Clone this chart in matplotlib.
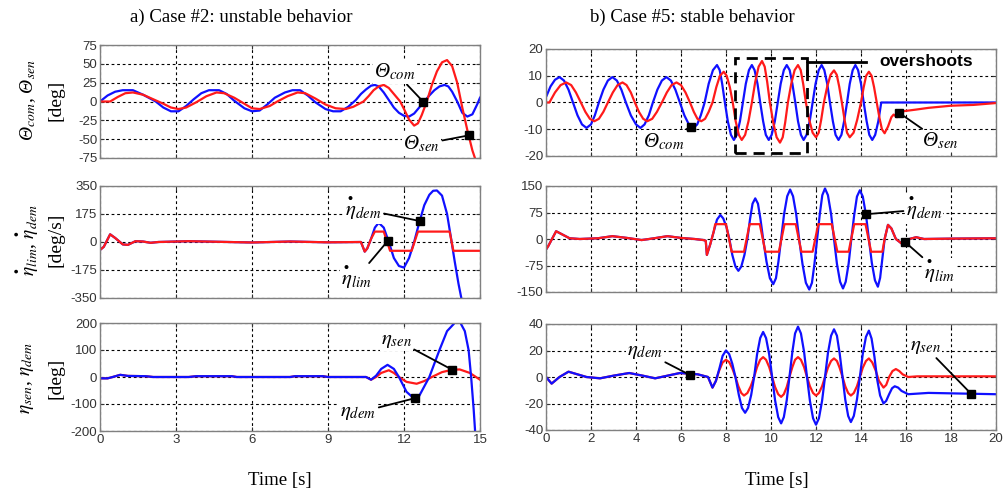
import numpy as np
import matplotlib
matplotlib.use("Agg")
import matplotlib.pyplot as plt
from matplotlib.patches import Rectangle

plt.rcParams['font.family'] = ['Liberation Serif', 'DejaVu Serif']
plt.rcParams['mathtext.fontset'] = 'stix'
plt.rcParams['axes.unicode_minus'] = False

# ---- a) Case #2 : unstable (0..15 s) ----
# pitch angle command / sensed [deg]
a_t_com = [0.0, 0.3, 0.6, 0.9, 1.3, 1.7, 2.2, 2.5, 2.8, 3.1, 3.4, 3.7, 4.0, 4.3, 4.7, 5.0, 5.3,
           5.7, 6.0, 6.3, 6.6, 6.9, 7.3, 7.6, 7.9, 8.2, 8.5, 8.9, 9.2, 9.5, 9.8, 10.1, 10.3,
           10.5, 10.7, 10.85, 11.0, 11.2, 11.4, 11.6, 11.8, 12.0, 12.2, 12.4, 12.6, 12.8,
           13.0, 13.2, 13.4, 13.6, 13.75, 13.9, 14.1, 14.3, 14.5, 14.7, 14.9, 15.0]
a_theta_com = [0, 8, 13, 15, 15, 9, 0, -8, -13, -13, -6, 3, 11, 15, 15, 10, 1,
               -9, -13, -12, -4, 5, 12, 15, 15, 8, -1, -10, -13, -13, -7, 2, 10,
               16, 21, 22, 20, 12, 2, -8, -15, -19, -20, -16, -8, 0,
               8, 15, 20, 22, 20, 13, 0, -15, -20, -17, -3, 5]
a_t_sen = [0.0, 0.4, 0.7, 1.0, 1.3, 1.7, 2.1, 2.5, 2.8, 3.1, 3.4, 3.8, 4.2, 4.6, 4.9, 5.3, 5.7,
           6.0, 6.3, 6.7, 7.0, 7.4, 7.8, 8.1, 8.5, 8.9, 9.3, 9.7, 10.0, 10.4, 10.6, 10.8, 11.0,
           11.2, 11.4, 11.6, 11.85, 12.0, 12.2, 12.4, 12.55, 12.7, 12.9, 13.1, 13.3, 13.5,
           13.7, 13.9, 14.1, 14.3, 14.5, 14.7, 14.85]
a_theta_sen = [0, 0, 6, 11, 12, 9, 3, -3, -8, -10, -8, -1, 7, 12, 11, 5, -3,
               -9, -10, -6, 0, 7, 12, 11, 4, -4, -9, -10, -7, 0, 7, 15, 20,
               22, 18, 10, 0, -10, -24, -32, -29, -18, 0, 22, 40, 52,
               55, 47, 25, -8, -38, -65, -80]

# elevator rate: demanded (blue) and limited (red) [deg/s]
a_t_rdem = [0.0, 0.15, 0.4, 0.6, 0.9, 1.1, 1.4, 1.7, 2.0, 2.3, 3.5, 6.0, 7.5, 9.0, 10.3,
            10.45, 10.55, 10.7, 10.85, 11.0, 11.2, 11.4, 11.6, 11.8, 12.0, 12.2, 12.4, 12.6,
            12.8, 13.0, 13.15, 13.3, 13.5, 13.7, 13.85, 14.0, 14.15, 14.3]
a_rate_dem = [-50, -30, 48, 25, -15, -18, 5, 3, -5, 0, 5, -3, 3, -2, 0,
              -60, -40, 20, 90, 120, 90, 0, -100, -150, -160, -100, 0, 120,
              230, 295, 320, 322, 290, 175, 30, -120, -260, -380]
a_t_rlim = [0.0, 0.15, 0.4, 0.6, 0.9, 1.1, 1.4, 1.7, 2.0, 2.3, 3.5, 6.0, 7.5, 9.0, 10.3,
            10.45, 10.55, 10.7, 10.85, 11.2, 11.45, 12.3, 12.55, 13.8, 13.95, 15.0]
a_rate_lim = [-50, -30, 48, 25, -15, -18, 5, 3, -5, 0, 5, -3, 3, -2, 0,
              -60, -40, 20, 65, 65, -55, -55, 65, 65, -55, -55]

# elevator deflection [deg]
a_t_edem = [0.0, 0.3, 0.5, 0.8, 1.1, 1.8, 2.1, 3.5, 3.8, 5.2, 5.4, 7.5, 7.7, 8.8, 9.0, 10.5,
            10.7, 10.9, 11.1, 11.35, 11.6, 11.8, 12.1, 12.4, 12.6, 12.8, 13.0, 13.2, 13.4,
            13.7, 14.0, 14.2, 14.4, 14.55, 14.65, 14.75, 14.82]
a_eta_dem = [-5, -5, 0, 8, 4, 3, 0, 0, 3, 3, 0, 0, 3, 3, 0, 0,
             -10, 5, 30, 45, 30, 0, -55, -80, -70, -35, 0, 50, 100,
             170, 200, 205, 170, 100, 0, -120, -220]
a_t_esen = [0.0, 0.3, 0.5, 0.8, 1.1, 1.8, 2.1, 3.5, 3.8, 5.2, 5.4, 7.5, 7.7, 8.8, 9.0, 10.5,
            10.7, 10.9, 11.1, 11.4, 11.6, 11.8, 12.1, 12.5, 12.8, 13.1, 13.5, 13.9, 14.2,
            14.6, 15.0]
a_eta_sen = [-5, -5, 0, 8, 4, 3, 0, 0, 3, 3, 0, 0, 3, 3, 0, 0,
             -10, 0, 15, 25, 15, 0, -18, -25, -15, 0, 18, 27, 28,
             15, -10]

# ---- b) Case #5 : stable (0..20 s) ----
b_t_com = [0.0, 0.2, 0.4, 0.6, 0.8, 1.0, 1.2, 1.4, 1.6, 1.8, 2.0, 2.17, 2.35, 2.55, 2.75,
           2.95, 3.15, 3.35, 3.55, 3.77, 4.0, 4.2, 4.38, 4.57, 4.75, 4.95, 5.15, 5.35, 5.55,
           5.75, 5.95, 6.15, 6.35, 6.55, 6.72, 6.88, 7.05, 7.23, 7.42, 7.6, 7.72, 7.83, 7.95,
           8.08, 8.22, 8.35, 8.48, 8.62, 8.75, 8.88, 9.02, 9.15, 9.27, 9.4, 9.52, 9.65, 9.77,
           9.9, 10.03, 10.17, 10.3, 10.43, 10.57, 10.7, 10.83, 10.95, 11.08, 11.2, 11.33,
           11.45, 11.58, 11.72, 11.85, 11.98, 12.12, 12.25, 12.37, 12.5, 12.62, 12.75, 12.87,
           13.0, 13.13, 13.25, 13.38, 13.5, 13.63, 13.75, 13.87, 14.0, 14.12, 14.25, 14.37,
           14.5, 14.63, 14.77, 14.9, 20.0]
b_theta_com = [2, 6, 8.5, 9.5, 8.2, 4.8, 0, -4.8, -8.2, -9.5, -8.2, -4.8, 0, 4.8, 8.2,
               9.5, 8.2, 4.8, 0, -4.8, -8.2, -9.5, -8.2, -4.8, 0, 4.8, 8.2, 9.5, 8.2,
               4.8, 0, -4.8, -8.2, -9.5, -8.2, -4.8, 0, 7, 12.1, 14, 12.1, 7, 0,
               -7, -12.1, -14, -12.1, -7, 0, 7, 12.1, 14, 12.1, 7, 0, -7, -12.1,
               -14, -12.1, -7, 0, 7, 12.1, 14, 12.1, 7, 0, -7, -12.1,
               -14, -12.1, -7, 0, 7, 12.1, 14, 12.1, 7, 0, -7, -12.1,
               -14, -12.1, -7, 0, 7, 12.1, 14, 12.1, 7, 0, -7, -12.1,
               -14, -12.1, -7, 0, 0]
b_t_sen = [0.0, 0.15, 0.4, 0.65, 0.9, 1.12, 1.33, 1.55, 1.75, 1.95, 2.15, 2.35, 2.55, 2.75,
           2.97, 3.18, 3.4, 3.58, 3.77, 3.95, 4.13, 4.32, 4.5, 4.72, 4.93, 5.15, 5.37, 5.58,
           5.8, 6.0, 6.2, 6.4, 6.57, 6.73, 6.9, 7.07, 7.23, 7.4, 7.57, 7.73, 7.9, 8.03, 8.17,
           8.3, 8.43, 8.57, 8.7, 8.85, 9.0, 9.15, 9.3, 9.45, 9.6, 9.72, 9.83, 9.95, 10.1,
           10.25, 10.4, 10.52, 10.63, 10.75, 10.9, 11.05, 11.2, 11.32, 11.43, 11.55, 11.7,
           11.85, 12.0, 12.12, 12.23, 12.35, 12.5, 12.65, 12.8, 12.92, 13.03, 13.15, 13.27,
           13.38, 13.5, 13.67, 13.83, 14.0, 14.12, 14.23, 14.35, 14.47, 14.58, 14.7, 14.82,
           14.93, 15.05, 15.2, 15.35, 15.45, 15.6, 15.75, 16.4, 17.0, 18.0, 19.0, 20.0]
b_theta_sen = [0, 0, 3.75, 6.5, 7.5, 6.5, 3.75, 0, -3.5, -6.1, -7, -6.1, -3.5, 0,
               3.75, 6.5, 7.5, 6.5, 3.75, 0, -3.5, -6.1, -7, -6.1, -3.5, 0, 3.75, 6.5,
               7.5, 6.5, 3.75, 0, -3.5, -6.1, -7, -6.1, -3.5, 0, 5.75, 10, 11.5, 10, 5.75,
               0, -7, -12.1, -14, -12.1, -7, 0, 7.75, 13.4, 15.5, 13.4, 7.75, 0, -7.5,
               -13, -15, -13, -7.5, 0, 7, 12.1, 14, 12.1, 7, 0, -6.5,
               -11.3, -13, -11.3, -6.5, 0, 6, 10.4, 12, 10.4, 6, 0, -6.5,
               -11.3, -13, -11.3, -6.5, 0, 5.75, 10, 11.5, 10, 5.75, 0, -5.75,
               -10, -11.5, -9, -5.5, -4.5, -5.5, -3.4, -2.7, -2, -1.2, -0.9, -0.2]

b_t_rdem = [0.0, 0.1, 0.45, 0.75, 1.05, 1.5, 2.3, 2.95, 3.6, 4.25, 4.8, 5.4, 6.0, 6.6, 7.0,
            7.1, 7.15, 7.3, 7.45, 7.6, 7.75, 7.88, 8.02, 8.15, 8.28, 8.42, 8.55, 8.68, 8.82,
            8.95, 9.07, 9.18, 9.3, 9.42, 9.53, 9.65, 9.8, 9.95, 10.1, 10.22, 10.33, 10.45,
            10.58, 10.72, 10.85, 10.98, 11.12, 11.25, 11.4, 11.55, 11.7, 11.82, 11.93, 12.05,
            12.17, 12.28, 12.4, 12.53, 12.67, 12.8, 12.93, 13.07, 13.2, 13.32, 13.45, 13.57,
            13.7, 13.82, 13.95, 14.08, 14.22, 14.35, 14.48, 14.62, 14.75, 14.85, 14.95, 15.05,
            15.2, 15.35, 15.55, 15.85, 16.15, 16.45, 16.8, 18.0, 20.0]
b_rate_dem = [-30, -20, 22, 12, 2, 0, 2, 8, 3, -3, 2, 8, 3, 0, -3,
              -5, -45, -15, 20, 55, 68, 58, 34, 0, -45, -78, -90, -78, -45,
              0, 57, 100, 115, 100, 57, 0, -64, -111, -128, -111, -64, 0,
              70, 121, 140, 121, 70, 0, -71, -124, -143, -124, -71, 0,
              71, 124, 143, 124, 71, 0, -70, -121, -140, -121, -70, 0,
              69, 120, 138, 120, 69, 0, -67, -117, -135, -110, -55, 0,
              40, 30, 0, -15, 0, 5, 0, 1, 2]
b_t_rlim = [0.0, 0.1, 0.45, 0.75, 1.05, 1.5, 2.3, 2.95, 3.6, 4.25, 4.8, 5.4, 6.0, 6.6, 7.0,
            7.1, 7.15, 7.3, 7.45, 7.52, 8.0, 8.25, 8.8, 9.05, 9.5, 9.75, 10.35, 10.6, 11.1,
            11.35, 11.85, 12.1, 12.7, 12.95, 13.45, 13.7, 14.2, 14.45, 14.95, 15.05, 15.2,
            15.35, 15.55, 15.85, 16.15, 16.45, 16.8, 18.0, 20.0]
b_rate_lim = [-30, -20, 22, 12, 2, 0, 2, 8, 3, -3, 2, 8, 3, 0, -3,
              -5, -45, -15, 20, 42, 42, -36, -36, 42, 42, -36, -36, 42, 42,
              -36, -36, 42, 42, -36, -36, 42, 42, -36, -36, 0, 40,
              30, 0, -15, 0, 5, 0, 1, 2]

b_t_esen = [0.0, 0.25, 0.6, 1.0, 1.4, 1.8, 2.4, 3.0, 3.7, 4.3, 4.85, 5.4, 5.95, 6.4, 6.75,
            7.2, 7.4, 7.55, 7.7, 7.85, 8.0, 8.14, 8.28, 8.42, 8.57, 8.71, 8.85, 8.98, 9.12,
            9.25, 9.38, 9.52, 9.65, 9.78, 9.92, 10.05, 10.18, 10.32, 10.45, 10.57, 10.7,
            10.82, 10.95, 11.07, 11.2, 11.33, 11.47, 11.6, 11.73, 11.87, 12.0, 12.13, 12.27,
            12.4, 12.53, 12.67, 12.8, 12.93, 13.05, 13.18, 13.3, 13.43, 13.55, 13.68, 13.82,
            13.95, 14.08, 14.22, 14.35, 14.47, 14.6, 14.72, 14.85, 15.0, 15.12, 15.25, 15.38,
            15.5, 15.65, 15.8, 16.1, 17.0, 20.0]
b_eta_sen = [0, -5, 0, 4, 2, 0, -1, 1, 3, 1, -1, 1, 3, 2.5, 2,
             0, -8, -3, 6, 16, 20, 17.3, 10, 0, -13.5, -23.4, -27, -23.4, -13.5,
             0, 17, 29.4, 34, 29.4, 17, 0, -17.5, -30.3, -35, -30.3, -17.5,
             0, 19, 32.9, 38, 32.9, 19, 0, -18, -31.2, -36, -31.2, -18,
             0, 18, 31.2, 36, 31.2, 18, 0, -17, -29.4, -34, -29.4, -17,
             0, 17.5, 30.3, 35, 29, 15, -2, -14, -20, -18, -13, -8.5,
             -7, -8, -10.5, -13, -12, -13]
b_t_edem = [0.0, 0.25, 0.6, 1.0, 1.4, 1.8, 2.4, 3.0, 3.7, 4.3, 4.85, 5.4, 5.95, 6.4, 6.75,
            7.2, 7.4, 7.55, 7.7, 7.85, 8.0, 8.14, 8.28, 8.42, 8.55, 8.68, 8.8, 8.95, 9.1,
            9.25, 9.38, 9.52, 9.65, 9.78, 9.92, 10.05, 10.18, 10.32, 10.45, 10.57, 10.7,
            10.82, 10.95, 11.07, 11.2, 11.33, 11.47, 11.6, 11.73, 11.87, 12.0, 12.13, 12.27,
            12.4, 12.53, 12.67, 12.8, 12.93, 13.05, 13.18, 13.3, 13.43, 13.55, 13.68, 13.82,
            13.95, 14.08, 14.22, 14.35, 14.5, 14.65, 14.8, 15.0, 15.12, 15.25, 15.4, 15.55,
            15.7, 15.85, 16.1, 16.5, 20.0]
b_eta_dem = [0, -5, 0, 4, 2, 0, -1, 1, 3, 1, -1, 1, 3, 2.5, 2,
             0, -8, -3, 5, 11, 13, 11.3, 6.5, 0, -7, -12.1, -14, -12.1, -7,
             0, 7.5, 13, 15, 13, 7.5, 0, -7.5, -13, -15, -13, -7.5,
             0, 7.5, 13, 15, 13, 7.5, 0, -7, -12.1, -14, -12.1, -7,
             0, 7, 12.1, 14, 12.1, 7, 0, -7, -12.1, -14, -12.1, -7,
             0, 7, 12.1, 14, 11, 5, -3, -8, -6, 0, 4.5, 6,
             4.5, 2, 0, 0.5, 0.5]

BLUE = '#1010ff'
RED = '#ff1a1a'
W, H = 1005, 491

# eta with a heavy dot on top (rate symbols)
ETA_DOT_DEM = r'$\overset{\bullet}{\eta}_{dem}$'
ETA_DOT_LIM = r'$\overset{\bullet}{\eta}_{lim}$'


def px_axes(fig, left, top, right, bottom):
    # axes placed by pixel edges
    return fig.add_axes([left / W, 1 - bottom / H, (right - left) / W, (bottom - top) / H])


def style(ax, xlim, xticks, ylim, yticks, show_x=False):
    ax.set_xlim(xlim)
    ax.set_ylim(ylim)
    ax.set_xticks(xticks)
    ax.set_yticks(yticks)
    ax.tick_params(direction='in', length=3, width=0.8, labelsize=9.5, colors='#333333',
                   top=True, right=True, pad=2)
    for lab in ax.get_xticklabels() + ax.get_yticklabels():
        lab.set_family('Liberation Sans')
    if not show_x:
        ax.set_xticklabels([])
    ax.grid(True, color='black', linestyle=(0, (2.5, 2.5)), linewidth=0.8)
    for s in ax.spines.values():
        s.set_color('#808080')
        s.set_linewidth(1.0)


def callout(ax, label, xy, xytext, size=15, italic=False):
    ax.annotate(label, xy=xy, xytext=xytext, fontsize=size, ha='center', va='center',
                style='italic' if italic else 'normal',
                annotation_clip=False, zorder=6,
                bbox=dict(boxstyle='square,pad=0.05', fc='white', ec='none'),
                arrowprops=dict(arrowstyle='-', color='black', lw=1.3, shrinkA=1, shrinkB=0))
    ax.plot(xy[0], xy[1], 's', color='black', ms=6, zorder=7, clip_on=False)


def ylabel(y, first, second, italic=False):
    fig.text(28 / W, 1 - y / H, first, fontsize=14, rotation=90, ha='center', va='center',
             style='italic' if italic else 'normal')
    fig.text(56 / W, 1 - y / H, second, fontsize=14, rotation=90, ha='center', va='center')


fig = plt.figure(figsize=(W / 100, H / 100), dpi=100)

# left column
ax1 = px_axes(fig, 100, 45, 480, 158)
ax1.plot(a_t_com, a_theta_com, color=BLUE, lw=1.6)
ax1.plot(a_t_sen, a_theta_sen, color=RED, lw=1.6)
style(ax1, (0, 15), [0, 3, 6, 9, 12, 15], (-75, 75), [-75, -50, -25, 0, 25, 50, 75])
callout(ax1, r'Θ$_{com}$', (12.75, 0), (11.65, 39), italic=True)
callout(ax1, r'Θ$_{sen}$', (14.55, -45), (12.7, -57), italic=True)

ax2 = px_axes(fig, 100, 186, 480, 298)
ax2.plot(a_t_rdem, a_rate_dem, color=BLUE, lw=1.6)
ax2.plot(a_t_rlim, a_rate_lim, color=RED, lw=1.6)
style(ax2, (0, 15), [0, 3, 6, 9, 12, 15], (-350, 350), [-350, -175, 0, 175, 350])
callout(ax2, ETA_DOT_DEM, (12.65, 130), (10.4, 205))
callout(ax2, ETA_DOT_LIM, (11.35, 5), (10.1, -230))

ax3 = px_axes(fig, 100, 323, 480, 431)
ax3.plot(a_t_esen, a_eta_sen, color=RED, lw=1.6)
ax3.plot(a_t_edem, a_eta_dem, color=BLUE, lw=1.6)
style(ax3, (0, 15), [0, 3, 6, 9, 12, 15], (-200, 200), [-200, -100, 0, 100, 200], show_x=True)
callout(ax3, r'$\eta_{sen}$', (13.9, 27), (11.7, 137))
callout(ax3, r'$\eta_{dem}$', (12.45, -78), (10.2, -132))

# right column
bx1 = px_axes(fig, 546, 49, 996, 156)
bx1.plot(b_t_com, b_theta_com, color=BLUE, lw=1.6)
bx1.plot(b_t_sen, b_theta_sen, color=RED, lw=1.6)
style(bx1, (0, 20), range(0, 21, 2), (-20, 20), [-20, -10, 0, 10, 20])
callout(bx1, r'Θ$_{com}$', (6.45, -9), (5.25, -14.7), italic=True)
callout(bx1, r'Θ$_{sen}$', (15.7, -3.9), (17.5, -14.4), italic=True)
bx1.add_patch(Rectangle((8.4, -18.9), 3.2, 35.7, fill=False, ec='black', lw=2,
                        ls=(0, (4, 2.5)), clip_on=False, zorder=5))
bx1.plot([11.6, 11.6, 14.2], [10.5, 15.2, 15.2], color='black', lw=2, zorder=5, clip_on=False)
bx1.text(14.8, 15.2, 'overshoots', fontsize=12.5, fontweight='bold', family='Liberation Sans',
         ha='left', va='center', zorder=6,
         bbox=dict(boxstyle='square,pad=0.05', fc='white', ec='none'))

bx2 = px_axes(fig, 546, 186, 996, 292)
bx2.plot(b_t_rdem, b_rate_dem, color=BLUE, lw=1.6)
bx2.plot(b_t_rlim, b_rate_lim, color=RED, lw=1.6)
style(bx2, (0, 20), range(0, 21, 2), (-150, 150), [-150, -75, 0, 75, 150])
callout(bx2, ETA_DOT_DEM, (14.2, 70), (16.8, 84))
callout(bx2, ETA_DOT_LIM, (15.95, -8), (17.5, -95))

bx3 = px_axes(fig, 546, 324, 996, 430)
bx3.plot(b_t_edem, b_eta_dem, color=RED, lw=1.6)
bx3.plot(b_t_esen, b_eta_sen, color=BLUE, lw=1.6)
style(bx3, (0, 20), range(0, 21, 2), (-40, 40), [-40, -20, 0, 20, 40], show_x=True)
callout(bx3, r'$\eta_{dem}$', (6.4, 1.5), (4.4, 19))
callout(bx3, r'$\eta_{sen}$', (18.9, -12.8), (16.85, 23))

# titles, axis names
fig.text(130 / W, 1 - 17 / H, 'a) Case #2: unstable behavior', fontsize=13.5, va='center')
fig.text(590 / W, 1 - 17 / H, 'b) Case #5: stable behavior', fontsize=13.5, va='center')
fig.text(280 / W, 1 - 480 / H, 'Time [s]', fontsize=13.5, ha='center', va='center')
fig.text(777 / W, 1 - 480 / H, 'Time [s]', fontsize=13.5, ha='center', va='center')

ylabel(100, r'Θ$_{com}$, Θ$_{sen}$', '[deg]', italic=True)
ylabel(240, ETA_DOT_LIM + ', ' + ETA_DOT_DEM, '[deg/s]')
ylabel(378, r'$\eta_{sen}$, $\eta_{dem}$', '[deg]')

fig.savefig('out.png', dpi=100)
